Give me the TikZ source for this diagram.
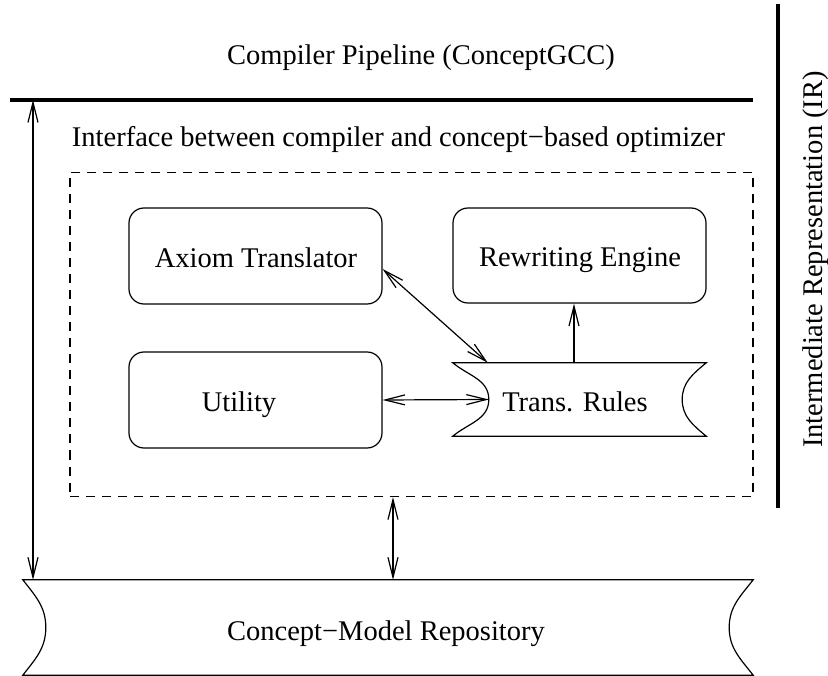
\documentclass[tikz,border=0pt]{standalone}
\usepackage{fontspec}
\setmainfont{Liberation Serif}
\usetikzlibrary{arrows.meta,calc}
\begin{document}
\begin{tikzpicture}[x=1pt,y=-1pt,
  font=\fontsize{28.5pt}{34pt}\selectfont,
  thin line/.style={line width=1.2pt},
  thick bar/.style={line width=4.5pt},
  roundbox/.style={draw,thin line,rounded corners=15pt,inner sep=0pt,minimum width=253pt,minimum height=96pt},
  shapebox/.style={inner sep=0pt},
  txt/.style={inner sep=0pt,anchor=base},
  biarrow/.style={thin line,{Straight Barb[length=20pt,width=10pt]}-{Straight Barb[length=20pt,width=10pt]}},
  uparrow/.style={thin line,-{Straight Barb[length=20pt,width=10pt]}},
  dashbox/.style={draw,thin line,dash pattern=on 9pt off 7pt,inner sep=0pt}
]
\useasboundingbox (0,0) rectangle (828,676);

% bars
\draw[thick bar] (10,100) -- (753,100);
\draw[thick bar] (778,4) -- (778,508);
\coordinate (pipe) at (33,100);
\coordinate (xmid) at (393,0);

% labels
\node[txt] (title) at (421,65) {Compiler Pipeline (ConceptGCC)};
\node[txt] (ifacelabel) at (398.5,147) {Interface between compiler and concept−based optimizer};
\node[txt,rotate=90] (ir) at (822,259.5) {Intermediate Representation (IR)};

% dashed interface box
\node[dashbox,minimum width=683pt,minimum height=324pt] (iface) at (411.5,334.5) {};

% rounded boxes
\node[roundbox] (axiom) at (255.5,256) {};
\node[roundbox,minimum height=95pt] (rewrite) at (579.5,255.5) {};
\node[roundbox] (utility) at (255.5,400) {};
\node[txt] (axiomt) at (256,268) {Axiom Translator};
\node[txt] (rewritet) at (580,267) {Rewriting Engine};
\node[txt] (utilityt) at (239,412) {Utility};

% Trans. Rules shape
\node[shapebox,minimum width=253pt,minimum height=73pt] (trans) at (579.5,399.5) {};
\draw[thin line] (trans.north west) to[out=-40,in=90] ([xshift=36pt]trans.west)
  to[out=-90,in=40] (trans.south west) -- (trans.south east)
  to[out=140,in=-90] ([xshift=-24pt]trans.east)
  to[out=90,in=-140] (trans.north east) -- cycle;
\node[txt] (transt) at (575,412) {Trans. Rules};

% repository shape
\node[shapebox,minimum width=730pt,minimum height=95pt] (repo) at (388,627.5) {};
\draw[thin line] (repo.north west) to[out=-52,in=90] ([xshift=23pt]repo.west)
  to[out=-90,in=52] (repo.south west) -- (repo.south east)
  to[out=128,in=-90] ([xshift=-24pt]repo.east)
  to[out=90,in=-128] (repo.north east) -- cycle;
\node[txt] (repot) at (386,640) {Concept−Model Repository};

% connectors
\draw[biarrow] ([yshift=-13pt]axiom.east) -- ([xshift=35pt]trans.north west);
\draw[uparrow] ([xshift=-5.5pt]trans.north) -- ([xshift=-5.5pt]rewrite.south);
\draw[biarrow] (utility.east) -- ([xshift=36pt]trans.west);
\draw[biarrow] (xmid |- iface.south) -- (xmid |- repo.north);
\draw[biarrow] (pipe) -- (pipe |- repo.north);
\end{tikzpicture}
\end{document}
